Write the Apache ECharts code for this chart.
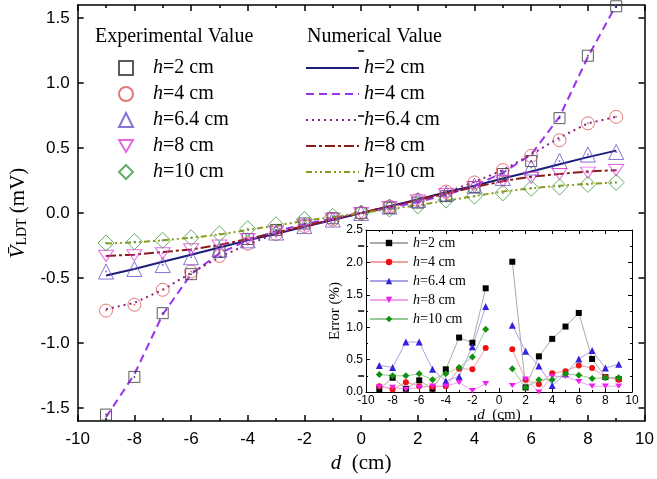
<!DOCTYPE html>
<html>
<head>
<meta charset="utf-8">
<script src="https://cdn.jsdelivr.net/npm/echarts@6/dist/echarts.min.js"></script>
<style>
html, body { margin: 0; padding: 0; background: #fff; }
#chart { width: 657px; height: 479px; }
</style>
</head>
<body>
<div id="chart"></div>
<script>
// positions d (cm)
var dPos = [-9, -8, -7, -6, -5, -4, -3, -2, -1, 0, 1, 2, 3, 4, 5, 6, 7, 8, 9];

// experimental values (mV)
var expH2  = [-1.55, -1.26, -0.77, -0.47, -0.30, -0.20, -0.13, -0.08, -0.04, 0, 0.04, 0.08, 0.13, 0.20, 0.30, 0.40, 0.73, 1.21, 1.59];
var expH4  = [-0.75, -0.705, -0.59, -0.45, -0.33, -0.235, -0.16, -0.10, -0.05, 0, 0.05, 0.10, 0.165, 0.235, 0.33, 0.44, 0.56, 0.69, 0.74];
var expH64 = [-0.45, -0.43, -0.40, -0.34, -0.28, -0.21, -0.15, -0.10, -0.05, 0, 0.05, 0.10, 0.15, 0.21, 0.27, 0.35, 0.40, 0.45, 0.47];
var expH8  = [-0.33, -0.325, -0.31, -0.28, -0.25, -0.20, -0.145, -0.095, -0.045, 0, 0.045, 0.095, 0.145, 0.20, 0.245, 0.27, 0.30, 0.31, 0.33];
var expH10 = [-0.23, -0.22, -0.21, -0.19, -0.16, -0.12, -0.09, -0.05, -0.025, 0, 0.03, 0.055, 0.10, 0.13, 0.155, 0.19, 0.20, 0.22, 0.235];

// numerical values (mV)
var numH2  = [-0.48, -0.43, -0.375, -0.32, -0.265, -0.21, -0.16, -0.105, -0.053, 0, 0.053, 0.105, 0.16, 0.21, 0.265, 0.32, 0.375, 0.43, 0.48];
var numH4  = [-1.57, -1.24, -0.78, -0.47, -0.31, -0.21, -0.14, -0.085, -0.04, 0, 0.04, 0.085, 0.14, 0.21, 0.31, 0.45, 0.74, 1.20, 1.60];
var numH64 = [-0.74, -0.69, -0.59, -0.46, -0.34, -0.24, -0.16, -0.10, -0.05, 0, 0.05, 0.10, 0.16, 0.24, 0.33, 0.45, 0.58, 0.69, 0.74];
var numH8  = [-0.33, -0.32, -0.30, -0.28, -0.245, -0.20, -0.15, -0.10, -0.05, 0, 0.05, 0.10, 0.15, 0.20, 0.245, 0.28, 0.30, 0.32, 0.33];
var numH10 = [-0.235, -0.225, -0.21, -0.19, -0.165, -0.13, -0.095, -0.06, -0.03, 0, 0.03, 0.06, 0.095, 0.13, 0.165, 0.19, 0.21, 0.225, 0.235];

// error (%) in the inset, no value at d = 0
var errD   = [-9, -8, -7, -6, -5, -4, -3, -2, -1, 1, 2, 3, 4, 5, 6, 7, 8, 9];
var errH2  = [0.04, 0.22, 0.05, 0.18, 0.05, 0.35, 0.84, 0.76, 1.60, 2.01, 0.07, 0.55, 0.82, 1.01, 1.22, 0.51, 0.23, 0.20];
var errH4  = [0.09, 0.04, 0.15, 0.09, 0.08, 0.09, 0.36, 0.35, 0.68, 0.66, 0.19, 0.12, 0.29, 0.32, 0.41, 0.37, 0.23, 0.19];
var errH64 = [0.41, 0.38, 0.77, 0.77, 0.35, 0.17, 0.24, 0.70, 1.32, 1.03, 0.63, 0.40, 0.10, 0.28, 0.51, 0.64, 0.37, 0.43];
var errH8  = [0.08, 0.07, 0.04, 0.07, 0.09, 0.09, 0.15, 0.02, 0.13, 0.10, 0.20, 0.00, 0.24, 0.24, 0.16, 0.09, 0.09, 0.09];
var errH10 = [0.27, 0.25, 0.25, 0.28, 0.19, 0.28, 0.38, 0.54, 0.97, 0.36, 0.07, 0.19, 0.19, 0.28, 0.26, 0.21, 0.22, 0.22];

var mainYTicks = [-1.5, -1, -0.5, 0, 0.5, 1, 1.5];
var mainYMinor = [-1.25, -0.75, -0.25, 0.25, 0.75, 1.25];
var hLabels = ['2', '4', '6.4', '8', '10'];

var serif = 'Liberation Serif';
var sans = 'Liberation Sans';
var downTri = 'path://M0,0 L10,0 L5,8.66 Z';

function pairs(xs, ys) {
    return xs.map(function (x, i) { return [x, ys[i]]; });
}
function errPairs(ys) {
    var out = pairs(errD, ys);
    out.splice(9, 0, [0, '-']);
    return out;
}

var myChart = echarts.init(document.getElementById('chart'), null, { renderer: 'canvas' });

var expStyle = [
    { sym: 'rect', size: 11, color: '#333333' },
    { sym: 'circle', size: 13, color: '#e05555' },
    { sym: 'triangle', size: 15, color: '#6650cc' },
    { sym: downTri, size: [15, 13], color: '#dd44dd' },
    { sym: 'diamond', size: 16, color: '#3c9a3c' }
];
var numStyle = [
    { color: '#1c1c7a', type: 'solid' },
    { color: '#9933ee', type: [8, 5] },
    { color: '#8b2080', type: [2, 4] },
    { color: '#8b1a1a', type: [10, 3, 3, 3] },
    { color: '#8c9a1e', type: [6, 3, 2, 3, 2, 3] }
];
var errStyle = [
    { sym: 'rect', size: 6, color: '#000000', line: '#aaaaaa' },
    { sym: 'circle', size: 6, color: '#ee1111', line: '#f0a0a0' },
    { sym: 'triangle', size: 7, color: '#3322dd', line: '#aaa2e6' },
    { sym: downTri, size: [7, 6], color: '#ee22ee', line: '#f0a4f0' },
    { sym: 'diamond', size: 7, color: '#119011', line: '#94cc94' }
];

var expData = [expH2, expH4, expH64, expH8, expH10];
var numData = [numH2, numH4, numH64, numH8, numH10];
var errData = [errH2, errH4, errH64, errH8, errH10];
var keys = ['2', '4', '64', '8', '10'];

var series = [];
numData.forEach(function (d, i) {
    series.push({
        name: 'n' + keys[i], type: 'line', xAxisIndex: 0, yAxisIndex: 0,
        data: pairs(dPos, d), symbol: 'none', showSymbol: false, z: 2,
        lineStyle: { color: numStyle[i].color, width: 2, type: numStyle[i].type },
        itemStyle: { color: numStyle[i].color }
    });
});
expData.forEach(function (d, i) {
    var s = expStyle[i];
    series.push({
        name: 'e' + keys[i], type: 'scatter', xAxisIndex: 0, yAxisIndex: 0,
        data: pairs(dPos, d), symbol: s.sym, symbolSize: s.size, symbolKeepAspect: true, z: 3,
        itemStyle: { color: 'rgba(255,255,255,0)', borderColor: s.color, borderWidth: 1 }
    });
    // small centre dot of the open markers
    series.push({
        name: 'dot' + keys[i], type: 'scatter', xAxisIndex: 0, yAxisIndex: 0,
        data: pairs(dPos, d), symbol: 'circle', symbolSize: 2, z: 3, silent: true,
        itemStyle: { color: s.color }
    });
});
errData.forEach(function (d, i) {
    var s = errStyle[i];
    series.push({
        name: 'r' + keys[i], type: 'line', xAxisIndex: 2, yAxisIndex: 4,
        data: errPairs(d), symbol: s.sym, symbolSize: s.size, symbolKeepAspect: true,
        connectNulls: false, z: 6,
        lineStyle: { color: s.line, width: 1 },
        itemStyle: { color: s.color }
    });
});

function hText(name) {
    var k = name.substring(1);
    var idx = keys.indexOf(k);
    return '{i|h}{t|=' + hLabels[idx] + ' cm}';
}

var bigRich = {
    i: { fontFamily: serif, fontStyle: 'italic', fontSize: 20, lineHeight: 20, color: '#000' },
    t: { fontFamily: serif, fontSize: 20, lineHeight: 20, color: '#000' }
};
var bigRichPad = {
    i: { fontFamily: serif, fontStyle: 'italic', fontSize: 20, lineHeight: 20, color: '#000', padding: [0, 0, 0, 15] },
    t: { fontFamily: serif, fontSize: 20, lineHeight: 20, color: '#000' }
};
var smallRich = {
    i: { fontFamily: serif, fontStyle: 'italic', fontSize: 14, lineHeight: 14, color: '#000' },
    t: { fontFamily: serif, fontSize: 14, lineHeight: 14, color: '#000' }
};

function xAxisDef(grid, pos, labels, big) {
    var ax = {
        gridIndex: grid, type: 'value', position: pos, min: -10, max: 10, interval: 2,
        z: big ? 0 : 5,
        axisLine: { onZero: false, lineStyle: { color: '#000', width: big ? 1.5 : 1 } },
        axisTick: { inside: true, length: big ? 6 : 4, lineStyle: { color: '#000', width: big ? 1.5 : 1 } },
        minorTick: { show: true, splitNumber: 2, length: big ? 3 : 2, lineStyle: { color: '#000', width: big ? 1.5 : 1 } },
        axisLabel: { show: labels, fontFamily: sans, fontSize: big ? 17 : 12, color: '#000', margin: big ? 10 : 3 },
        splitLine: { show: false }
    };
    return ax;
}

var option = {
    animation: false,
    backgroundColor: '#fff',
    title: [
        { text: 'Experimental Value', left: 95, top: 27, padding: 0,
          textStyle: { fontFamily: serif, fontSize: 20, fontWeight: 'normal', color: '#000' } },
        { text: 'Numerical Value', left: 307, top: 27, padding: 0,
          textStyle: { fontFamily: serif, fontSize: 20, fontWeight: 'normal', color: '#000' } }
    ],
    legend: [
        { data: ['e2', 'e4', 'e64', 'e8', 'e10'], orient: 'vertical', left: 118, top: 58, padding: 0,
          itemWidth: 14, itemHeight: 14, itemGap: 6, selectedMode: false,
          formatter: hText, textStyle: { rich: bigRichPad } },
        { data: ['n2', 'n4', 'n64', 'n8', 'n10'], orient: 'vertical', left: 305, top: 58, padding: 0,
          itemWidth: 53, itemHeight: 14, itemGap: 6, selectedMode: false,
          itemStyle: { color: 'rgba(0,0,0,0)', borderWidth: 0, opacity: 0 },
          formatter: hText, textStyle: { rich: bigRich } },
        { data: ['r2', 'r4', 'r64', 'r8', 'r10'], orient: 'vertical', left: 369, top: 236, padding: 0,
          itemWidth: 38, itemHeight: 8, itemGap: 5, selectedMode: false, z: 7,
          formatter: hText, textStyle: { rich: smallRich } }
    ],
    grid: [
        { left: 76, right: 9, top: 5, bottom: 52 },
        { left: 366, right: 25, top: 230, bottom: 87, show: true, backgroundColor: '#fff', borderWidth: 0, z: 4 }
    ],
    xAxis: [
        Object.assign(xAxisDef(0, 'bottom', true, true), {
            name: '{i|d}{t|  (cm)}', nameLocation: 'middle', nameGap: 24,
            nameTextStyle: { rich: {
                i: { fontFamily: serif, fontStyle: 'italic', fontSize: 21, color: '#000' },
                t: { fontFamily: serif, fontSize: 21, color: '#000' } } }
        }),
        xAxisDef(0, 'top', false, true),
        Object.assign(xAxisDef(1, 'bottom', true, false), {
            name: '{i|d}{t|  (cm)}', nameLocation: 'middle', nameGap: 15,
            nameTextStyle: { rich: {
                i: { fontFamily: serif, fontStyle: 'italic', fontSize: 15, color: '#000' },
                t: { fontFamily: serif, fontSize: 15, color: '#000' } } }
        }),
        xAxisDef(1, 'top', false, false)
    ],
    yAxis: [
        { gridIndex: 0, type: 'value', position: 'left', min: -1.6, max: 1.6,
          axisLine: { onZero: false, lineStyle: { color: '#000', width: 1.5 } },
          axisTick: { inside: true, length: 6, customValues: mainYTicks, lineStyle: { color: '#000', width: 1.5 } },
          axisLabel: { customValues: mainYTicks, fontFamily: sans, fontSize: 17, color: '#000', margin: 8,
                       formatter: function (v) { return v.toFixed(1); } },
          splitLine: { show: false },
          name: '{v|V\u0304}{s|LDT}{t| (mV)}', nameLocation: 'middle', nameRotate: 90, nameGap: 44,
          nameTextStyle: { rich: {
              v: { fontFamily: serif, fontStyle: 'italic', fontSize: 21, color: '#000' },
              s: { fontFamily: serif, fontSize: 14, color: '#000', verticalAlign: 'bottom', padding: [8, 0, 0, 0] },
              t: { fontFamily: serif, fontSize: 21, color: '#000' } } } },
        { gridIndex: 0, type: 'value', position: 'left', min: -1.6, max: 1.6,
          axisLine: { show: false },
          axisTick: { inside: true, length: 3, customValues: mainYMinor, lineStyle: { color: '#000', width: 1.5 } },
          axisLabel: { show: false }, splitLine: { show: false } },
        { gridIndex: 0, type: 'value', position: 'right', min: -1.6, max: 1.6,
          axisLine: { onZero: false, lineStyle: { color: '#000', width: 1.5 } },
          axisTick: { inside: true, length: 6, customValues: mainYTicks, lineStyle: { color: '#000', width: 1.5 } },
          axisLabel: { show: false }, splitLine: { show: false } },
        { gridIndex: 0, type: 'value', position: 'right', min: -1.6, max: 1.6,
          axisLine: { show: false },
          axisTick: { inside: true, length: 3, customValues: mainYMinor, lineStyle: { color: '#000', width: 1.5 } },
          axisLabel: { show: false }, splitLine: { show: false } },
        { gridIndex: 1, type: 'value', position: 'left', min: 0, max: 2.5, interval: 0.5, z: 5,
          axisLine: { onZero: false, lineStyle: { color: '#000', width: 1 } },
          axisTick: { inside: true, length: 4, lineStyle: { color: '#000' } },
          minorTick: { show: true, splitNumber: 2, length: 2, lineStyle: { color: '#000' } },
          axisLabel: { fontFamily: sans, fontSize: 12, color: '#000', margin: 3,
                       formatter: function (v) { return v.toFixed(1); } },
          splitLine: { show: false },
          name: 'Error (%)', nameLocation: 'middle', nameRotate: 90, nameGap: 22,
          nameTextStyle: { fontFamily: serif, fontSize: 15, color: '#000' } },
        { gridIndex: 1, type: 'value', position: 'right', min: 0, max: 2.5, interval: 0.5, z: 5,
          axisLine: { onZero: false, lineStyle: { color: '#000', width: 1 } },
          axisTick: { inside: true, length: 4, lineStyle: { color: '#000' } },
          minorTick: { show: true, splitNumber: 2, length: 2, lineStyle: { color: '#000' } },
          axisLabel: { show: false }, splitLine: { show: false } }
    ],
    series: series
};

myChart.setOption(option);
</script>
</body>
</html>
